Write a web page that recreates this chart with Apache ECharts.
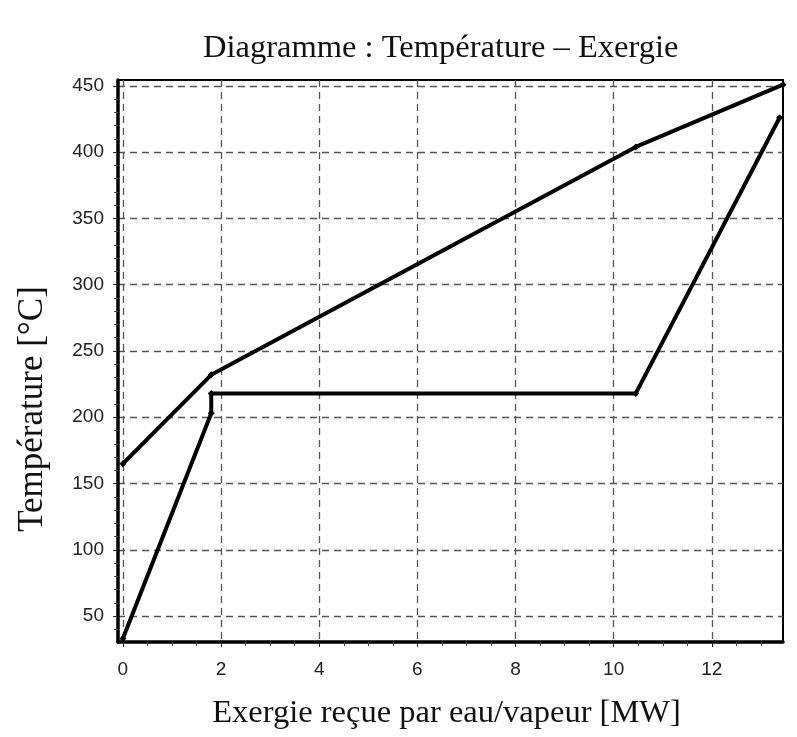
<!DOCTYPE html>
<html><head><meta charset="utf-8">
<script src="https://cdn.jsdelivr.net/npm/echarts@6/dist/echarts.min.js"></script>
<style>html,body{margin:0;padding:0;background:#fff}#c{width:797px;height:737px}</style>
</head><body><div id="c"></div>
<script>
const hotX = [0, 1.8, 10.45, 13.45];
const hotY = [165, 232, 404, 451];
const coldX = [0, 1.8, 1.8, 10.45, 13.38];
const coldY = [33, 203, 218, 218, 426];
const xTicks = [0, 2, 4, 6, 8, 10, 12];
const yTicks = [50, 100, 150, 200, 250, 300, 350, 400, 450];
const xMinor = [0.5,1,1.5,2.5,3,3.5,4.5,5,5.5,6.5,7,7.5,8.5,9,9.5,10.5,11,11.5,12.5,13];
const yMinor = [40,60,70,80,90,110,120,130,140,160,170,180,190,210,220,230,240,260,270,280,290,310,320,330,340,360,370,380,390,410,420,430,440];

const serif = '"Liberation Serif", "DejaVu Serif", serif';
const sans = '"Liberation Sans", Arial, sans-serif';
const X_MIN = -0.1, X_MAX = 13.45, Y_MIN = 30.4, Y_MAX = 454.5;

const chart = echarts.init(document.getElementById('c'), null, {renderer: 'canvas'});
const gridLine = {show: true, lineStyle: {color: '#555', type: [7, 5], width: 1.3}};
chart.setOption({
  animation: false,
  backgroundColor: '#fff',
  title: {text: 'Diagramme : Température – Exergie', left: 198, top: 27,
    textStyle: {fontFamily: serif, fontSize: 32.5, fontWeight: 'normal', color: '#111'}},
  grid: {left: 118, right: 14, top: 80, bottom: 95, containLabel: false,
    show: true, borderColor: '#000', borderWidth: 2},
  xAxis: [{
    type: 'value', min: X_MIN, max: X_MAX,
    name: 'Exergie reçue par eau/vapeur [MW]', nameLocation: 'middle', nameGap: 55,
    nameTextStyle: {fontFamily: serif, fontSize: 32.5, color: '#111', padding: [0, 8, 0, 0]},
    axisLine: {show: true, onZero: false, lineStyle: {color: '#000', width: 3.5}},
    axisTick: {show: true, customValues: xTicks, length: 5, inside: false, lineStyle: {color: '#222'}},
    axisLabel: {customValues: xTicks, fontFamily: sans, fontSize: 19, color: '#222', margin: 18},
    splitLine: gridLine
  }, {
    type: 'value', min: X_MIN, max: X_MAX, position: 'bottom',
    axisLine: {show: false, onZero: false},
    axisTick: {show: true, customValues: xMinor, length: 4, lineStyle: {color: '#444'}},
    axisLabel: {show: false}, splitLine: {show: false}
  }],
  yAxis: [{
    type: 'value', min: Y_MIN, max: Y_MAX,
    name: 'Température [°C]', nameLocation: 'middle', nameGap: 68, nameRotate: 90,
    nameTextStyle: {fontFamily: serif, fontSize: 35, color: '#111', padding: [0, 96, 0, 0]},
    axisLine: {show: true, onZero: false, lineStyle: {color: '#000', width: 3.5}},
    axisTick: {show: true, customValues: yTicks, length: 5, lineStyle: {color: '#222'}},
    axisLabel: {customValues: yTicks, fontFamily: sans, fontSize: 19, color: '#222', margin: 14},
    splitLine: gridLine
  }, {
    type: 'value', min: Y_MIN, max: Y_MAX, position: 'left',
    axisLine: {show: false, onZero: false},
    axisTick: {show: true, customValues: yMinor, length: 4, lineStyle: {color: '#444'}},
    axisLabel: {show: false}, splitLine: {show: false}
  }],
  series: [{
    type: 'line', name: 'hot', data: hotX.map((x, i) => [x, hotY[i]]),
    symbol: 'diamond', symbolSize: 7, showSymbol: true,
    lineStyle: {color: '#000', width: 4}, itemStyle: {color: '#000'}
  }, {
    type: 'line', name: 'cold', data: coldX.map((x, i) => [x, coldY[i]]),
    symbol: 'diamond', symbolSize: 7, showSymbol: true,
    lineStyle: {color: '#000', width: 4}, itemStyle: {color: '#000'}
  }]
});
</script></body></html>
